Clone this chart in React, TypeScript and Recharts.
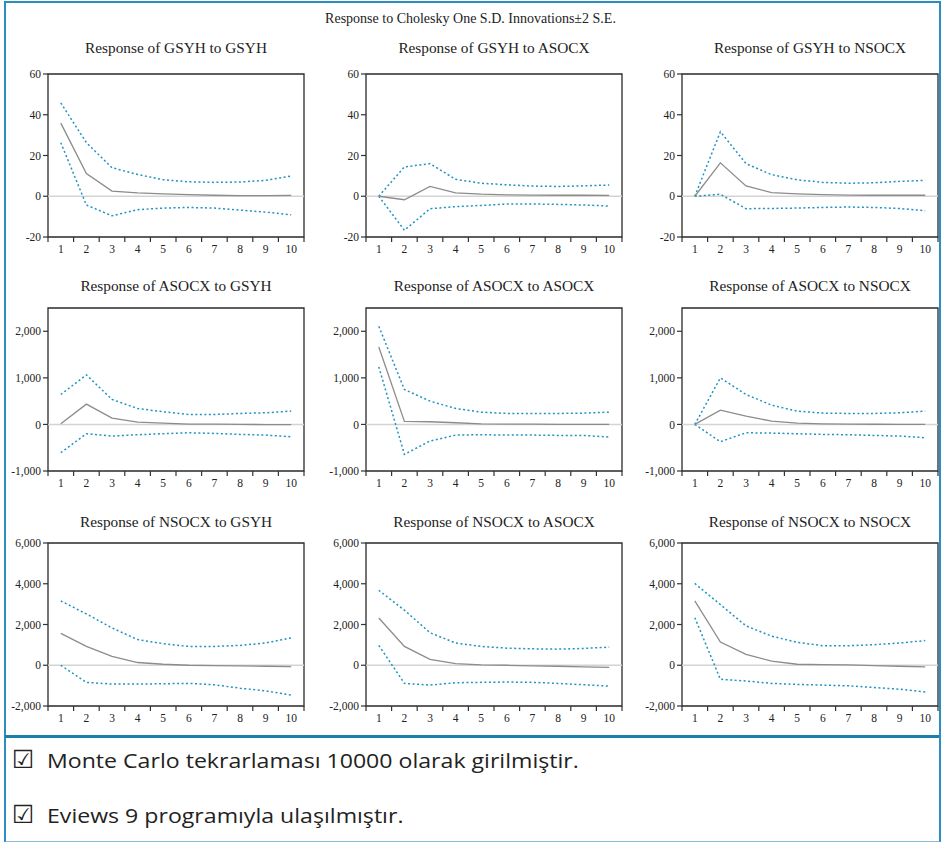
import { LineChart, Line, XAxis, YAxis, ReferenceLine, ReferenceArea } from "recharts";

const periods = [1, 2, 3, 4, 5, 6, 7, 8, 9, 10];

const titles = [
  "Response of GSYH to GSYH",
  "Response of GSYH to ASOCX",
  "Response of GSYH to NSOCX",
  "Response of ASOCX to GSYH",
  "Response of ASOCX to ASOCX",
  "Response of ASOCX to NSOCX",
  "Response of NSOCX to GSYH",
  "Response of NSOCX to ASOCX",
  "Response of NSOCX to NSOCX",
];

// impulse responses (solid) and +/- 2 S.E. bands (dotted)
const mid = [
  [35.9, 11.1, 2.5, 1.7, 1.2, 0.8, 0.5, 0.3, 0.3, 0.4],
  [0, -1.7, 4.8, 1.7, 1.0, 0.7, 0.6, 0.5, 0.5, 0.4],
  [0, 16.4, 5.1, 1.8, 1.2, 0.8, 0.6, 0.5, 0.5, 0.5],
  [15, 436, 136, 50, 29, 7, 5, 0, -3, -5],
  [1664, 64, 57, 36, 14, 7, 5, 3, 2, 0],
  [0, 307, 179, 71, 29, 14, 7, 4, 2, 0],
  [1562, 924, 437, 134, 50, 0, -17, -34, -50, -67],
  [2318, 924, 286, 84, 17, 0, -34, -50, -84, -100],
  [3158, 1142, 538, 202, 50, 34, 17, -17, -50, -84],
];

const upper = [
  [45.8, 26.3, 14, 10.7, 8.1, 7.1, 6.8, 7, 7.8, 9.9],
  [0, 14.4, 16, 8.3, 6.4, 5.6, 5, 4.8, 5.1, 5.5],
  [0, 31.7, 16, 10.6, 8.1, 6.8, 6.4, 6.6, 7.3, 7.8],
  [643, 1064, 536, 343, 271, 214, 214, 236, 250, 286],
  [2107, 750, 500, 343, 264, 236, 236, 236, 243, 264],
  [0, 1000, 643, 414, 286, 243, 236, 236, 250, 286],
  [3158, 2520, 1831, 1260, 1058, 924, 924, 974, 1092, 1344],
  [3679, 2705, 1596, 1092, 924, 840, 806, 790, 823, 890],
  [4015, 2974, 1932, 1428, 1126, 958, 958, 1008, 1092, 1210],
];

const lower = [
  [26.3, -4.3, -9.6, -6.6, -5.8, -5.5, -5.8, -6.8, -7.8, -9.1],
  [0, -16.7, -6.1, -5.1, -4.5, -3.8, -3.8, -4, -4.3, -4.8],
  [0, 1.0, -6.1, -6, -5.8, -5.5, -5.3, -5.5, -6, -7.1],
  [-607, -200, -250, -221, -200, -179, -193, -214, -229, -264],
  [1236, -643, -357, -229, -221, -229, -229, -236, -236, -271],
  [0, -371, -179, -186, -200, -214, -221, -236, -250, -286],
  [0, -840, -924, -924, -907, -890, -958, -1126, -1260, -1462],
  [974, -890, -974, -857, -840, -823, -840, -890, -958, -1025],
  [2335, -689, -773, -890, -941, -974, -1008, -1092, -1176, -1310],
];

const rowDomains = [
  [-20, 60],
  [-1000, 2500],
  [-2000, 6000],
];
const rowTicks = [
  [-20, 0, 20, 40, 60],
  [-1000, 0, 1000, 2000],
  [-2000, 0, 2000, 4000, 6000],
];

const xTicks = [0.5, 1, 1.5, 2, 2.5, 3, 3.5, 4, 4.5, 5, 5.5, 6, 6.5, 7, 7.5, 8, 8.5, 9, 9.5, 10, 10.5];

const notes = ["Monte Carlo tekrarlaması 10000 olarak girilmiştir.", "Eviews 9 programıyla ulaşılmıştır."];

const colLeft = [48, 366, 682];
const rowTop = [74, 308, 543];
const titleY = [48, 286, 522];
const plotW = 256;
const plotH = 163;

const serif = "'Liberation Serif', 'Times New Roman', serif";
const BLUE = "#1f93c4";

const XTick = (props: any) => {
  const { x, y, payload } = props;
  const v = payload.value;
  if (Number.isInteger(v)) {
    return (
      <text x={x} y={y + 16} textAnchor="middle" style={{ fontSize: 11.5, fontFamily: serif }} fill="#222">
        {v}
      </text>
    );
  }
  return <line x1={x} x2={x} y1={y} y2={y + 5} stroke="#333" strokeWidth={1.2} />;
};

function Panel({ i }: { i: number }) {
  const row = Math.floor(i / 3);
  const col = i % 3;
  const data = periods.map((p, k) => ({ period: p, mid: mid[i][k], up: upper[i][k], lo: lower[i][k] }));
  const [ymin, ymax] = rowDomains[row];
  const left = colLeft[col];
  const top = rowTop[row];
  return (
    <>
      <div
        style={{
          position: "absolute",
          left: left - 40,
          width: plotW + 80,
          top: titleY[row] - 10,
          lineHeight: "20px",
          textAlign: "center",
          fontFamily: serif,
          fontSize: 15.3,
          color: "#222",
          whiteSpace: "nowrap",
        }}
      >
        {titles[i]}
      </div>
      <div style={{ position: "absolute", left: left - 60, top: top - 6, fontFamily: serif }}>
        <LineChart
          width={60 + plotW + 6}
          height={6 + plotH + 26}
          data={data}
          margin={{ top: 6, right: 6, left: 0, bottom: 0 }}
          style={{ fontFamily: serif }}
        >
          <XAxis
            dataKey="period"
            type="number"
            domain={[0.5, 10.5]}
            ticks={xTicks}
            interval={0}
            tick={<XTick />}
            tickLine={false}
            axisLine={false}
            tickSize={0}
            tickMargin={0}
            height={26}
            allowDataOverflow
          />
          <YAxis
            type="number"
            domain={[ymin, ymax]}
            ticks={rowTicks[row]}
            interval={0}
            width={60}
            axisLine={false}
            tickSize={5}
            tickMargin={2}
            tickLine={{ stroke: "#333", strokeWidth: 1.2 }}
            tick={{ fontSize: 11.5, fontFamily: serif, fill: "#222", style: { fontFamily: serif } }}
            tickFormatter={(v: number) => v.toLocaleString("en-US")}
            allowDataOverflow
          />
          <ReferenceLine y={0} stroke="#d4d4d4" strokeWidth={1.5} />
          <Line type="linear" dataKey="up" stroke={BLUE} strokeWidth={1.5} strokeDasharray="2 2.5" dot={false} isAnimationActive={false} />
          <Line type="linear" dataKey="lo" stroke={BLUE} strokeWidth={1.5} strokeDasharray="2 2.5" dot={false} isAnimationActive={false} />
          <Line type="linear" dataKey="mid" stroke="#8c8c8c" strokeWidth={1.3} dot={false} isAnimationActive={false} />
          <ReferenceArea x1={0.5} x2={10.5} y1={ymin} y2={ymax} fill="none" fillOpacity={0} stroke="#2a2a2a" strokeWidth={1.3} />
        </LineChart>
      </div>
    </>
  );
}

function Note({ text, top }: { text: string; top: number }) {
  return (
    <>
      <div
        style={{
          position: "absolute",
          left: 12,
          top: top - 3,
          fontFamily: "'DejaVu Sans', sans-serif",
          fontSize: 25,
          lineHeight: "30px",
          color: "#222",
        }}
      >
        ☑
      </div>
      <div
        style={{
          position: "absolute",
          left: 47,
          top,
          fontFamily: "'Open Sans', sans-serif",
          fontSize: 19.5,
          color: "#222",
          lineHeight: "26px",
          whiteSpace: "nowrap",
          transform: "scaleX(1.185)",
          transformOrigin: "left center",
        }}
      >
        {text}
      </div>
    </>
  );
}

export default function App() {
  return (
    <div style={{ position: "absolute", left: 0, top: 0, width: 941, height: 842, background: "#fff", overflow: "hidden" }}>
      <div
        style={{
          position: "absolute",
          left: 4,
          top: 1,
          width: 933,
          height: 838,
          borderTop: "2px solid #2a8fc0",
          borderLeft: "2px solid #2a8fc0",
          borderRight: "2px solid #2a8fc0",
          borderBottom: "2px solid #86bfda",
        }}
      />
      <div style={{ position: "absolute", left: 5, width: 934, top: 735, height: 3, background: "#1a80ab" }} />
      <div
        style={{
          position: "absolute",
          left: 0,
          width: 941,
          top: 9,
          lineHeight: "20px",
          textAlign: "center",
          fontFamily: serif,
          fontSize: 14,
          color: "#222",
        }}
      >
        Response to Cholesky One S.D. Innovations±2 S.E.
      </div>
      {titles.map((_, i) => (
        <Panel key={i} i={i} />
      ))}
      <Note text={notes[0]} top={748} />
      <Note text={notes[1]} top={803} />
    </div>
  );
}
